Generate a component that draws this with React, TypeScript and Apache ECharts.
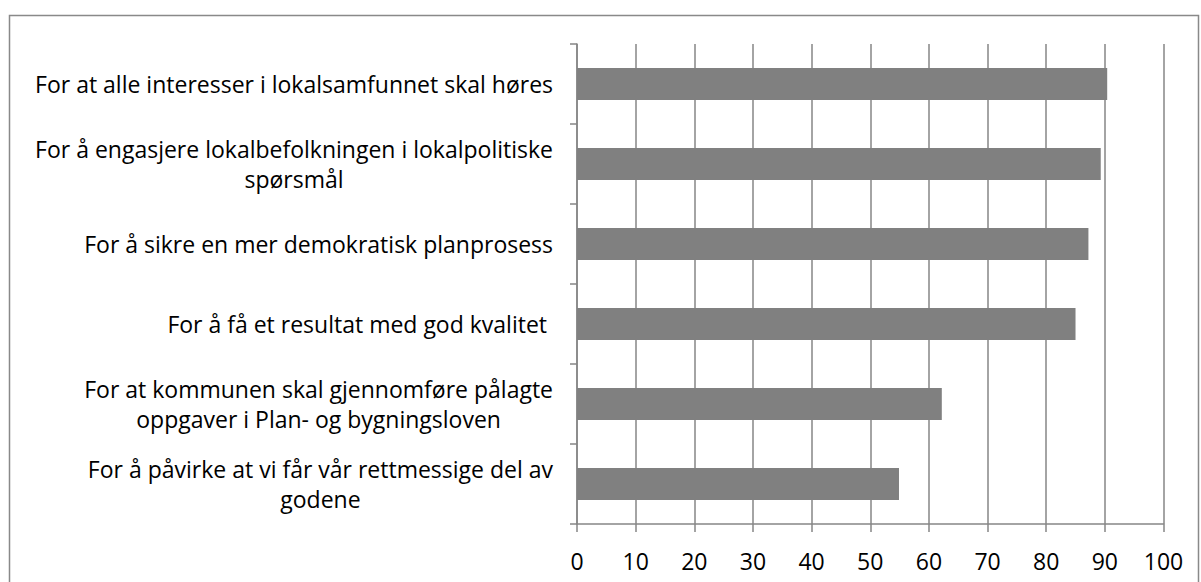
import React, { useEffect, useRef } from "react";
import * as echarts from "echarts";

const categories: string[] = [
  "For at alle interesser i lokalsamfunnet skal høres",
  "For å engasjere lokalbefolkningen i lokalpolitiske\nspørsmål",
  "For å sikre en mer demokratisk planprosess",
  "For å få et resultat med god kvalitet ",
  "For at kommunen skal gjennomføre pålagte\noppgaver i Plan- og bygningsloven",
  "For å påvirke at vi får vår rettmessige del av\ngodene",
];
const values: number[] = [90.4, 89.3, 87.2, 85.0, 62.2, 54.9];
const xTicks = { min: 0, max: 100, interval: 10 };

const FONT = "'Open Sans', 'Noto Sans', sans-serif";
const GREY = "#868686";

export default function App() {
  const ref = useRef<HTMLDivElement>(null);
  useEffect(() => {
    if (!ref.current) return;
    const chart = echarts.init(ref.current, undefined, { renderer: "svg" });
    chart.setOption({
      animation: false,
      backgroundColor: "#ffffff",
      graphic: [
        {
          type: "rect",
          shape: { x: 9.5, y: 15.5, width: 1189, height: 600 },
          style: { fill: "none", stroke: "#898989", lineWidth: 1.5 },
          silent: true,
        },
      ],
      grid: { left: 577, right: 37.5, top: 44, bottom: 58 },
      xAxis: {
        type: "value",
        min: xTicks.min,
        max: xTicks.max,
        interval: xTicks.interval,
        axisLine: { show: true, lineStyle: { color: GREY, width: 1.5 } },
        axisTick: { show: true, length: 8, lineStyle: { color: GREY, width: 1.5 } },
        splitLine: { show: true, lineStyle: { color: GREY, width: 1.5 } },
        axisLabel: { color: "#000", fontSize: 23, fontFamily: FONT, margin: 25 },
      },
      yAxis: {
        type: "category",
        data: categories,
        inverse: true,
        axisLine: { show: true, lineStyle: { color: GREY, width: 1.5 } },
        axisTick: { show: true, length: 7, lineStyle: { color: GREY, width: 1.5 } },
        splitLine: { show: false },
        axisLabel: {
          color: "#000",
          fontSize: 23,
          fontFamily: FONT,
          margin: 24,
          lineHeight: 30,
          formatter: (v: string) =>
            v
              .split("\n")
              .map((l) => "{c|" + l + "}")
              .join("\n"),
          rich: {
            c: { align: "center", fontSize: 23, fontFamily: FONT, color: "#000", lineHeight: 30 },
          },
        },
      },
      series: [
        {
          type: "bar",
          data: values,
          barWidth: 32,
          itemStyle: { color: "#808080" },
        },
      ],
    });
    return () => chart.dispose();
  }, []);
  return (
    <div
      ref={ref}
      style={{ position: "absolute", left: 0, top: 0, width: 1201, height: 582 }}
    />
  );
}
